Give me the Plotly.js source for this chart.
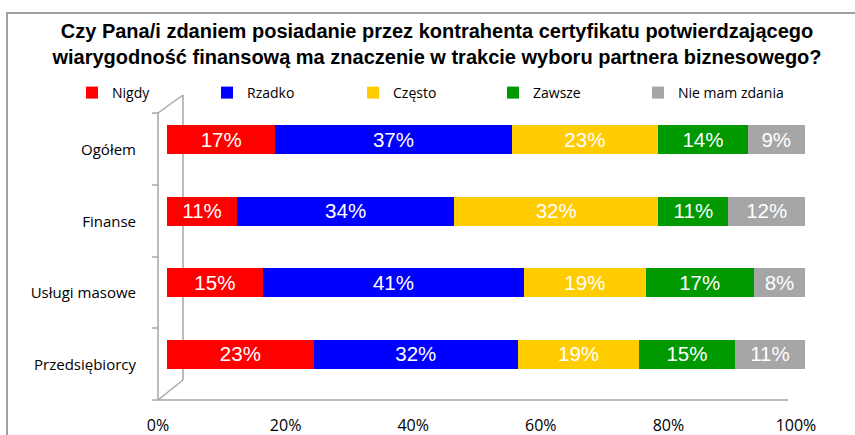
<!DOCTYPE html>
<html>
<head>
<meta charset="utf-8">
<script src="https://cdn.plot.ly/plotly-3.0.1.min.js"></script>
<style>html,body{margin:0;padding:0;background:#fff;}#chart{width:855px;height:435px;}</style>
</head>
<body>
<div id="chart"></div>
<script>
// ---- data ----
const categories = ['Ogółem', 'Finanse', 'Usługi masowe', 'Przedsiębiorcy'];
const seriesNames = ['Nigdy', 'Rzadko', 'Często', 'Zawsze', 'Nie mam zdania'];
const nigdy = [17, 11, 15, 23];
const rzadko = [37, 34, 41, 32];
const czesto = [23, 32, 19, 19];
const zawsze = [14, 11, 17, 15];
const nieMamZdania = [9, 12, 8, 11];
const xTickVals = [0, 20, 40, 60, 80, 100];
const xTickText = ['0%', '20%', '40%', '60%', '80%', '100%'];
const titleText = 'Czy Pana/i zdaniem posiadanie przez kontrahenta certyfikatu potwierdzającego<br>wiarygodność finansową ma znaczenie w trakcie wyboru partnera biznesowego?';

// ---- styles ----
const colors = ['#FF0000', '#0000FF', '#FFCC00', '#009900', '#A6A6A6'];
const seriesValues = [nigdy, rzadko, czesto, zawsze, nieMamZdania];
const legendTextStart = [112, 247, 393, 533, 678];

const W = 855, H = 435;
const M = {l: 167, r: 50, t: 104, b: 45};
const PW = W - M.l - M.r, PH = H - M.t - M.b;
const px = x => (x - M.l) / PW;
const py = y => (H - M.b - y) / PH;
const legendIds = ['legend', 'legend2', 'legend3', 'legend4', 'legend5'];

const traces = seriesNames.map((name, i) => ({
  type: 'bar',
  orientation: 'h',
  name: name,
  legend: legendIds[i],
  y: categories,
  x: seriesValues[i],
  text: seriesValues[i].map(v => v + '%'),
  textposition: 'inside',
  insidetextanchor: 'middle',
  textangle: 0,
  textfont: {family: 'Liberation Sans, Arial, sans-serif', size: 22, color: '#FFFFFF'},
  marker: {color: colors[i], line: {width: 0}},
  hoverinfo: 'skip'
}));

const lineStyle = {color: '#A6A6A6', width: 1.5};
const seg = (x0, y0, x1, y1, line) => ({type: 'line', xref: 'paper', yref: 'paper', layer: 'below',
  x0: px(x0), y0: py(y0), x1: px(x1), y1: py(y1), line: line || lineStyle});

const shapes = [
  // outer frame
  {type: 'rect', xref: 'paper', yref: 'paper', layer: 'below', x0: px(7), y0: py(13), x1: px(910), y1: py(520),
   line: {color: '#A0A0A0', width: 2}},
  seg(158, 113, 158, 400),
  seg(183, 95, 183, 380),
  seg(158, 113, 183, 95),
  seg(158, 400, 183, 380),
  seg(158, 400, 788, 400),
  seg(152, 113, 158, 113),
  seg(152, 185, 158, 185),
  seg(152, 257, 158, 257),
  seg(152, 328, 158, 328),
  seg(152, 400, 158, 400)
];

const layout = {
  width: W, height: H, autosize: false,
  margin: M,
  paper_bgcolor: '#FFFFFF',
  plot_bgcolor: 'rgba(0,0,0,0)',
  barmode: 'stack',
  bargap: 0.59,
  showlegend: true,
  title: {
    text: titleText,
    font: {family: 'Liberation Sans, Arial, sans-serif', size: 20, color: '#000000', weight: 'bold'},
    x: 437 / W, xref: 'container', xanchor: 'center',
    y: 1 - 38 / H, yanchor: 'middle'
  },
  xaxis: {
    range: [0, 100],
    tickvals: xTickVals,
    ticktext: xTickText,
    showgrid: false, zeroline: false, showline: false,
    ticks: '',
    ticklabelstandoff: 24,
    ticklabelshift: -9,
    tickfont: {family: 'Open Sans, sans-serif', size: 16, color: '#000000'},
    fixedrange: true
  },
  yaxis: {
    type: 'category',
    categoryorder: 'array',
    categoryarray: categories,
    range: [3.5, -0.5],
    showgrid: false, zeroline: false, showline: false,
    ticks: '',
    ticklabelstandoff: 30,
    ticklabelshift: -10,
    tickfont: {family: 'Open Sans, sans-serif', size: 15, color: '#000000'},
    fixedrange: true
  },
  shapes: shapes
};

legendIds.forEach((id, i) => {
  layout[id] = {
    orientation: 'h',
    x: px(legendTextStart[i] - 40), xanchor: 'left',
    y: py(93), yanchor: 'middle',
    font: {family: 'Open Sans, sans-serif', size: 14, color: '#000000'},
    bgcolor: 'rgba(0,0,0,0)'
  };
});

Plotly.newPlot('chart', traces, layout, {displayModeBar: false, staticPlot: true});
</script>
</body>
</html>
